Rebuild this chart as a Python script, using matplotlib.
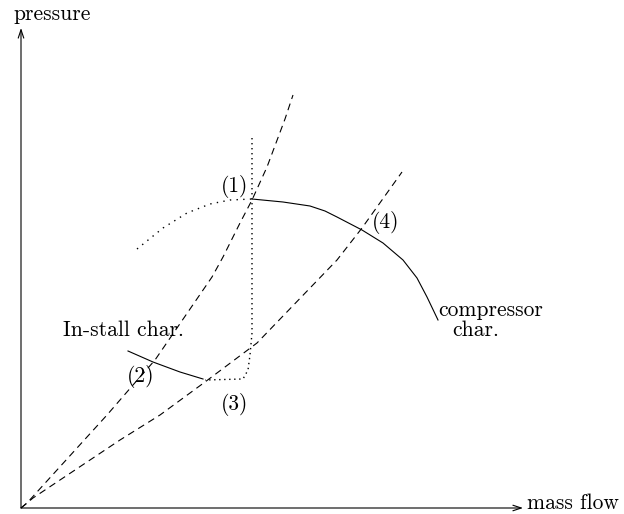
import matplotlib
matplotlib.use('Agg')
import matplotlib.pyplot as plt

# compressor map sketch: mass flow (x) vs pressure (y), arbitrary units
throttle_steep_x = [0, 6, 86, 112, 134, 191, 202, 219, 231, 246, 264, 272]
throttle_steep_y = [0, 5, 93, 123, 148, 231, 251, 285, 308, 341, 389, 413]

throttle_flat_x = [0, 12, 99, 139, 184, 236, 316, 341, 381]
throttle_flat_y = [0, 10, 68, 93, 126, 165, 248, 280, 336]

compressor_x = [231, 262, 289, 304, 316, 341, 362, 382, 396, 406, 417]
compressor_y = [309, 306, 302, 297, 291, 278, 265, 248, 230, 211, 188]

install_x = [107, 132, 159, 182]
install_y = [157, 146, 136, 129]

unstable_x = [116, 142, 166, 189, 209, 231]
unstable_y = [259, 280, 295, 304, 308, 309]

surge_x = [231, 231, 229, 227, 222, 184]
surge_y = [370, 175, 153, 138, 129, 128]

point_labels = ['(1)', '(2)', '(3)', '(4)']
point_x = [214, 120, 214, 365]
point_y = [321, 131, 103, 285]

plt.rcParams['lines.scale_dashes'] = False
FONT = ['cmr10', 'DejaVu Serif']
FS = 15.5

fig = plt.figure(figsize=(6.24, 5.14), dpi=100)
ax = fig.add_axes([0, 0, 1, 1])
ax.set_xlim(-21, 603)
ax.set_ylim(-6, 508)
ax.axis('off')

lw = 0.8
ax.plot(throttle_steep_x, throttle_steep_y, color='black', lw=lw, dashes=(5, 3.5))
ax.plot(throttle_flat_x, throttle_flat_y, color='black', lw=lw, dashes=(5, 3.5))
ax.plot(compressor_x, compressor_y, color='black', lw=lw)
ax.plot(install_x, install_y, color='black', lw=lw)
ax.plot(unstable_x, unstable_y, color='black', lw=1.0, dashes=(1, 3.8))
ax.plot(surge_x, surge_y, color='black', lw=1.0, dashes=(1, 2.6))

# axes arrows
arrow = dict(arrowstyle='->,head_length=0.6,head_width=0.2', lw=lw,
             color='black', shrinkA=0, shrinkB=0, mutation_scale=10)
ax.annotate('', xy=(0, 480), xytext=(0, 0), arrowprops=arrow)
ax.annotate('', xy=(502, 0), xytext=(0, 0), arrowprops=arrow)

ax.text(-8, 494, 'pressure', family=FONT, fontsize=FS, va='center', ha='left')
ax.text(506, 5, 'mass flow', family=FONT, fontsize=FS, va='center', ha='left')

for lab, x, y in zip(point_labels, point_x, point_y):
    ax.text(x, y, lab, family=FONT, fontsize=FS, va='center', ha='center')

ax.text(42, 178, 'In-stall char.', family=FONT, fontsize=FS, va='center', ha='left')
ax.text(417, 198, 'compressor', family=FONT, fontsize=FS, va='center', ha='left')
ax.text(431, 178, 'char.', family=FONT, fontsize=FS, va='center', ha='left')

fig.savefig('out.png', dpi=100)
